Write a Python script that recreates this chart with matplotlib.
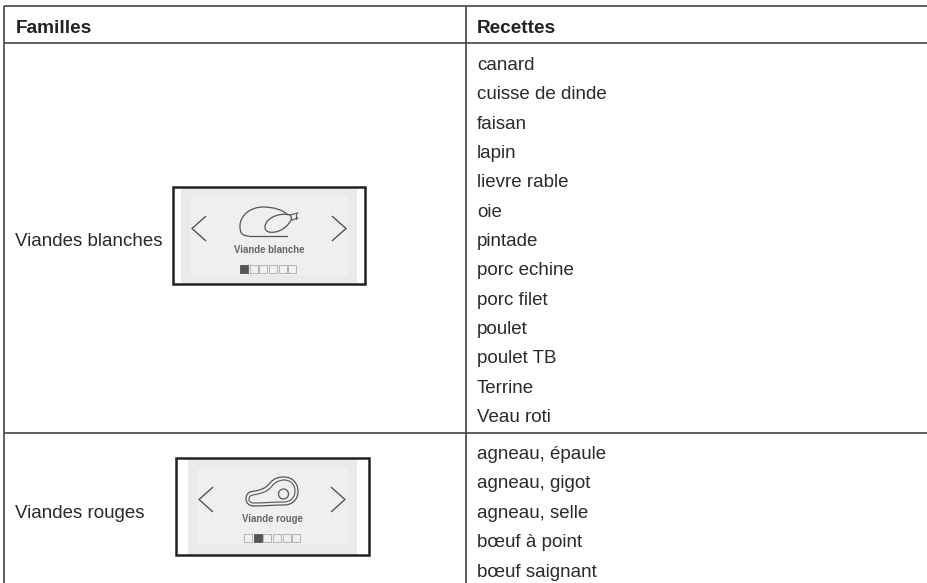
import matplotlib
matplotlib.use("Agg")
import matplotlib.pyplot as plt
from matplotlib.patches import Rectangle, PathPatch, Circle
from matplotlib.path import Path

plt.rcParams['font.family'] = ['Liberation Sans', 'DejaVu Sans']

headers = ["Familles", "Recettes"]
families = ["Viandes blanches", "Viandes rouges"]
icon_labels = ["Viande blanche", "Viande rouge"]
active_dot = [0, 1]
recipes_white = ["canard", "cuisse de dinde", "faisan", "lapin", "lievre rable", "oie",
                 "pintade", "porc echine", "porc filet", "poulet", "poulet TB", "Terrine", "Veau roti"]
recipes_red = ["agneau, épaule", "agneau, gigot", "agneau, selle", "bœuf à point", "bœuf saignant"]

W, H = 927, 583
fig = plt.figure(figsize=(W/100, H/100), dpi=100)
ax = fig.add_axes([0, 0, 1, 1])
ax.set_xlim(0, W); ax.set_ylim(H, 0); ax.axis('off')

LC = '#444444'; TC = '#2a2a2a'
FS = 13.5
TOP, HDR, SPLIT, LEFT, MID = 6, 42.7, 432.5, 4.5, 466.2
for y in (TOP, HDR, SPLIT):
    ax.plot([LEFT, W], [y, y], color=LC, lw=1.2, solid_capstyle='butt')
for x in (LEFT, MID):
    ax.plot([x, x], [TOP, H], color=LC, lw=1.2, solid_capstyle='butt')

ax.text(15.5, 33, headers[0], fontsize=13.7, fontweight='bold', color='#222222', va='baseline')
ax.text(477, 33, headers[1], fontsize=13.7, fontweight='bold', color='#222222', va='baseline')
ax.text(15, 246, families[0], fontsize=FS, color=TC, va='baseline')
ax.text(15, 518, families[1], fontsize=FS, color=TC, va='baseline')

for i, r in enumerate(recipes_white):
    ax.text(477, 70 + i*29.33, r, fontsize=FS, color=TC, va='baseline')
for i, r in enumerate(recipes_red):
    ax.text(477, 459 + i*29.45, r, fontsize=FS, color=TC, va='baseline')

ICON = '#555555'

def screen(x0, x1, y0, y1, gx0, gx1, ix0, ix1, iy0, iy1, lx, ly, lfs, cy, tipl, tipr, dx0, dy0, label, active):
    ax.add_patch(Rectangle((gx0, y0), gx1 - gx0, y1 - y0, fc='#e9eaec', ec='none', zorder=1))
    ax.add_patch(Rectangle((ix0, iy0), ix1 - ix0, iy1 - iy0, fc='#eeeff1', ec='none', zorder=1))
    ax.add_patch(Rectangle((x0, y0), x1 - x0, y1 - y0, fc='none', ec='#222222', lw=1.8, zorder=5))
    ax.plot([tipl + 13.5, tipl, tipl + 13.5], [cy - 12, cy, cy + 12], color=ICON, lw=1.0, zorder=3)
    ax.plot([tipr - 13.5, tipr, tipr - 13.5], [cy - 12, cy, cy + 12], color=ICON, lw=1.0, zorder=3)
    ax.text(lx, ly, label, fontsize=lfs, fontweight='bold', color='#666666', ha='center', va='center', zorder=3)
    for k in range(6):
        on = k == active
        ax.add_patch(Rectangle((dx0 + k*9.7, dy0), 8, 8, fc=ICON if on else '#f0f0f2',
                               ec=ICON if on else '#aaaaaa', lw=0.6, zorder=3))

def curve(points, **kw):
    codes = [Path.MOVETO] + [Path.CURVE4] * (len(points) - 1)
    ax.add_patch(PathPatch(Path(points, codes), fc='none', ec=ICON, zorder=3, **kw))

# white meat screen
screen(173, 365, 187, 284, 181, 357, 190, 348, 196, 275, 269, 250, 6.9, 228.5, 192, 346, 240, 265,
       icon_labels[0], active_dot[0])
ax.plot([287, 249], [236, 236], color=ICON, lw=0.9, zorder=3)
curve([(249, 236), (241, 236), (240, 232), (240, 226),
       (240, 215), (251, 207), (263, 207),
       (274, 207), (283, 210), (288, 215)], lw=0.9)
curve([(290, 215), (280, 212), (265, 218), (265, 227),
       (265, 232), (270, 233), (275, 232),
       (282, 231), (288, 226), (291, 220),
       (292, 218), (291, 216), (290, 215)], lw=0.9)
ax.plot([290, 298], [215, 213], color=ICON, lw=0.8, zorder=3)
ax.plot([292, 298], [220, 218], color=ICON, lw=0.8, zorder=3)
ax.plot([296, 296], [213, 219], color=ICON, lw=0.8, zorder=3)

# red meat screen
screen(176, 369, 458, 555, 188, 357, 197, 348, 469, 544, 272, 519, 6.9, 499.5, 199, 345, 244, 534,
       icon_labels[1], active_dot[1])
curve([(252, 491.5), (262, 490), (266, 488), (270, 483),
       (274, 478), (279, 477), (284, 477),
       (293, 477), (298, 484), (298, 491),
       (298, 500), (292, 505), (284, 505),
       (273, 505), (264, 506), (254, 506),
       (249, 506), (246, 503), (246, 499),
       (246, 495), (248, 492), (252, 491.5)], lw=0.9)
curve([(253, 495), (264, 493), (268, 491), (272, 486),
       (275, 482), (280, 480), (284, 480),
       (291, 480), (295, 485), (295, 491),
       (295, 498), (290, 502), (284, 502),
       (273, 502), (264, 503), (254, 503),
       (250, 503), (249, 501), (249, 499),
       (249, 497), (250, 495.5), (253, 495)], lw=0.8)
ax.add_patch(Circle((283.5, 494), 5, fc='none', ec=ICON, lw=0.9, zorder=3))

fig.savefig('out.png', dpi=100)
